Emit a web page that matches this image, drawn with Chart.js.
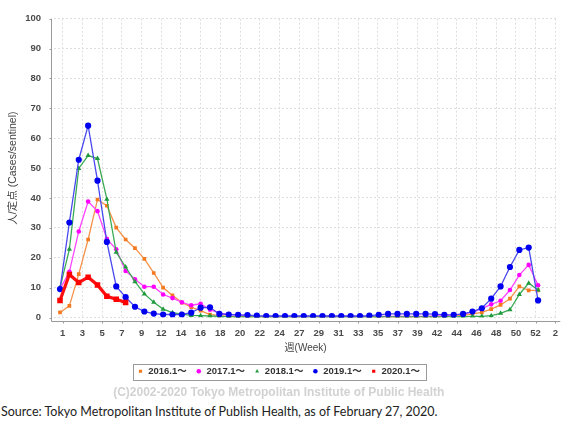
<!DOCTYPE html>
<html>
<head>
<meta charset="utf-8">
<script src="https://cdn.jsdelivr.net/npm/chart.js@4"></script>
<style>
  body { margin: 0; background: #fff; }
  #wrap { position: relative; width: 568px; height: 429px; }
  #source {
    position: absolute; left: 1px; top: 404px;
    font: 12.5px Lato, "Open Sans", sans-serif; color: #222; white-space: nowrap;
  }
</style>
</head>
<body>
<div id="wrap">
  <canvas id="myChart" width="568" height="400"></canvas>
  <div id="source">Source: Tokyo Metropolitan Institute of Publish Health, as of February 27, 2020.</div>
</div>
<script>
// Week numbers on the x axis (one point per week)
const weeks = [1, 2, 3, 4, 5, 6, 7, 8, 9, 10, 11, 12, 13, 14, 15, 16, 17, 18, 19, 20,
    21, 22, 23, 24, 25, 26, 27, 28, 29, 30, 31, 32, 33, 34, 35, 36, 37, 38, 39, 40,
    41, 42, 43, 44, 45, 46, 47, 48, 49, 50, 51, 52];

// Tick labels printed under the x axis
const weekTickLabels = ['1', '3', '5', '7', '9', '12', '14', '16', '18', '20', '22', '24', '27',
    '29', '31', '33', '35', '37', '39', '42', '44', '46', '48', '50', '52', '2'];

// Cases per sentinel, by season
const cases2016 = [1.7, 3.9, 14.5, 26.1, 39.5, 37.4, 30.1, 26.1, 23.2, 19.6, 14.9, 10.0, 7.4, 5.0,
    3.5, 2.3, 1.0, 0.6, 0.4, 0.3, 0.3, 0.2, 0.2, 0.2, 0.2, 0.2, 0.2, 0.2, 0.2, 0.2, 0.2, 0.2,
    0.2, 0.2, 0.2, 0.2, 0.2, 0.2, 0.2, 0.3, 0.3, 0.4, 0.5, 0.7, 1.2, 1.7, 2.8, 4.2, 6.3, 10.4,
    9.1, 9.1];
const cases2017 = [9.5, 15.3, 28.8, 38.8, 35.6, 26.3, 22.8, 15.6, 12.8, 10.3, 10.3, 7.7, 6.5, 5.1,
    4.1, 4.6, 2.6, 1.5, 1.0, 0.8, 0.6, 0.4, 0.4, 0.4, 0.4, 0.4, 0.4, 0.4, 0.4, 0.4, 0.4, 0.4,
    0.4, 0.4, 0.4, 0.4, 0.4, 0.4, 0.4, 0.4, 0.5, 0.6, 0.8, 1.2, 1.8, 3.0, 4.4, 5.6, 9.2, 14.2,
    17.6, 10.8];
const cases2018 = [10.0, 22.8, 49.9, 54.2, 53.2, 39.6, 21.8, 16.9, 12.0, 7.9, 5.1, 2.8, 1.6, 1.1,
    0.7, 0.6, 0.5, 0.4, 0.2, 0.2, 0.2, 0.2, 0.2, 0.2, 0.2, 0.2, 0.2, 0.2, 0.2, 0.2, 0.2, 0.2,
    0.2, 0.2, 0.2, 0.2, 0.2, 0.2, 0.2, 0.2, 0.2, 0.2, 0.2, 0.3, 0.4, 0.4, 0.6, 1.4, 2.6, 7.7,
    11.5, 9.2];
const cases2019 = [9.5, 31.8, 52.8, 64.2, 45.8, 25.3, 10.4, 6.8, 3.6, 2.0, 1.3, 1.0, 1.0, 1.0,
    1.6, 3.3, 3.4, 1.2, 1.0, 0.9, 0.8, 0.6, 0.5, 0.5, 0.5, 0.5, 0.5, 0.5, 0.5, 0.5, 0.5, 0.5,
    0.5, 0.6, 0.9, 1.2, 1.2, 1.2, 1.2, 1.2, 1.1, 0.9, 0.9, 1.2, 2.0, 3.1, 6.3, 10.4, 16.9, 22.6,
    23.4, 5.7];
const cases2020 = [5.7, 14.4, 11.7, 13.5, 10.9, 7.1, 6.1, 5.0];

const yTicks = [0, 10, 20, 30, 40, 50, 60, 70, 80, 90, 100];

// Where the first tick sits and how far apart ticks are (in weeks)
const TICK_START = 1.29;
const TICK_STEP = 2.102;

const labelFont = "'Liberation Sans', 'Noto Sans CJK JP', sans-serif";

// Axis lines sit a few pixels off the plot, with small tick marks
const axisFrame = {
    id: 'axisFrame',
    afterDraw(chart) {
        const {ctx, chartArea: a, scales: {x, y}} = chart;
        const gap = 3;
        ctx.save();
        ctx.strokeStyle = '#9a9a9a';
        ctx.lineWidth = 1;
        ctx.beginPath();
        const ax = Math.round(a.left - gap) + 0.5;
        const ay = Math.round(a.bottom + gap) + 0.5;
        ctx.moveTo(ax, a.top);
        ctx.lineTo(ax, ay);
        ctx.moveTo(ax, ay);
        ctx.lineTo(a.right + gap, ay);
        x.ticks.forEach(t => {
            const px = Math.round(x.getPixelForValue(t.value)) + 0.5;
            ctx.moveTo(px, ay);
            ctx.lineTo(px, ay + 2);
        });
        y.ticks.forEach(t => {
            const py = Math.round(y.getPixelForValue(t.value)) + 0.5;
            ctx.moveTo(ax, py);
            ctx.lineTo(ax - 2, py);
        });
        ctx.stroke();
        ctx.restore();
    }
};

// Thin frame round the legend row
const legendFrame = {
    id: 'legendFrame',
    afterDraw(chart) {
        const boxes = chart.legend.legendHitBoxes;
        if (!boxes || !boxes.length) return;
        const left = Math.min(...boxes.map(b => b.left)) - 4;
        const right = Math.max(...boxes.map(b => b.left + b.width)) + 6;
        const top = boxes[0].top - 3;
        const bottom = boxes[0].top + boxes[0].height + 3;
        const ctx = chart.ctx;
        ctx.save();
        ctx.strokeStyle = '#9a9a9a';
        ctx.lineWidth = 1;
        ctx.strokeRect(Math.round(left) + 0.5, Math.round(top) + 0.5, Math.round(right - left), Math.round(bottom - top));
        ctx.restore();
    }
};

function makeSeries(label, data, color, lineColor, style, radius, width, order) {
    return {
        label: label,
        data: data,
        borderColor: lineColor,
        backgroundColor: color,
        pointBackgroundColor: color,
        pointBorderColor: color,
        pointStyle: style,
        pointRadius: radius,
        pointBorderWidth: 0,
        borderWidth: width,
        tension: 0,
        order: order
    };
}

function drawChart() {
    const ctx = document.getElementById('myChart').getContext('2d');

    new Chart(ctx, {
        type: 'line',
        data: {
            labels: weeks,
            datasets: [
                makeSeries('2016.1～', cases2016, '#f57a1f', '#f5924a', 'rect', 2.6, 1.3, 4),
                makeSeries('2017.1～', cases2017, '#ff00ff', '#ff44ff', 'circle', 2.3, 1.3, 3),
                makeSeries('2018.1～', cases2018, '#1f9a3c', '#3aaa55', 'triangle', 3, 1.3, 2),
                makeSeries('2019.1～', cases2019, '#0000f0', '#4848ee', 'circle', 3.1, 1.3, 1),
                makeSeries('2020.1～', cases2020, '#ff0000', '#ff1010', 'rect', 3.9, 3.2, 0)
            ]
        },
        options: {
            responsive: false,
            animation: false,
            layout: {
                padding: { top: 9, right: 10.5, bottom: 1.4, left: 0 }
            },
            scales: {
                x: {
                    type: 'linear',
                    min: 0.36,
                    max: 54.05,
                    afterBuildTicks: scale => {
                        scale.ticks = weekTickLabels.map((lab, k) => ({ value: TICK_START + k * TICK_STEP }));
                    },
                    afterFit: scale => { scale.height = 40; },
                    grid: {
                        color: '#dedede',
                        drawTicks: false
                    },
                    border: { display: false, dash: [2, 2] },
                    ticks: {
                        padding: 10,
                        maxRotation: 0,
                        autoSkip: false,
                        color: '#4a4a4a',
                        font: { family: labelFont, size: 9.5, weight: 'bold' },
                        callback: (value, index) => weekTickLabels[index]
                    },
                    title: {
                        display: true,
                        text: '週(Week)',
                        color: '#444',
                        padding: { top: 0, bottom: 3 },
                        font: { family: labelFont, size: 10 }
                    }
                },
                y: {
                    min: 0,
                    max: 100,
                    afterBuildTicks: scale => {
                        scale.ticks = yTicks.map(v => ({ value: v }));
                    },
                    afterFit: scale => { scale.width = 54; },
                    grid: {
                        color: '#dedede',
                        drawTicks: false
                    },
                    border: { display: false, dash: [2, 2] },
                    ticks: {
                        padding: 13,
                        color: '#4a4a4a',
                        font: { family: labelFont, size: 9.5, weight: 'bold' }
                    },
                    title: {
                        display: true,
                        text: '人/定点 (Cases/sentinel)',
                        color: '#444',
                        padding: { top: 7, bottom: 0 },
                        font: { family: labelFont, size: 10.5 }
                    }
                }
            },
            plugins: {
                legend: {
                    position: 'bottom',
                    labels: {
                        usePointStyle: true,
                        boxWidth: 6,
                        boxHeight: 3.2,
                        padding: 9,
                        color: '#333',
                        font: { family: labelFont, size: 9.5, weight: 'bold' },
                        sort: (a, b) => a.datasetIndex - b.datasetIndex
                    }
                },
                subtitle: {
                    display: true,
                    position: 'bottom',
                    text: '(C)2002-2020 Tokyo Metropolitan Institute of Public Health',
                    color: '#d2d2d2',
                    padding: { top: 0, bottom: 0 },
                    font: { family: labelFont, size: 12, weight: 'bold', lineHeight: 1.05 }
                },
                tooltip: { enabled: false }
            }
        },
        plugins: [axisFrame, legendFrame]
    });
}

drawChart();
</script>
</body>
</html>
